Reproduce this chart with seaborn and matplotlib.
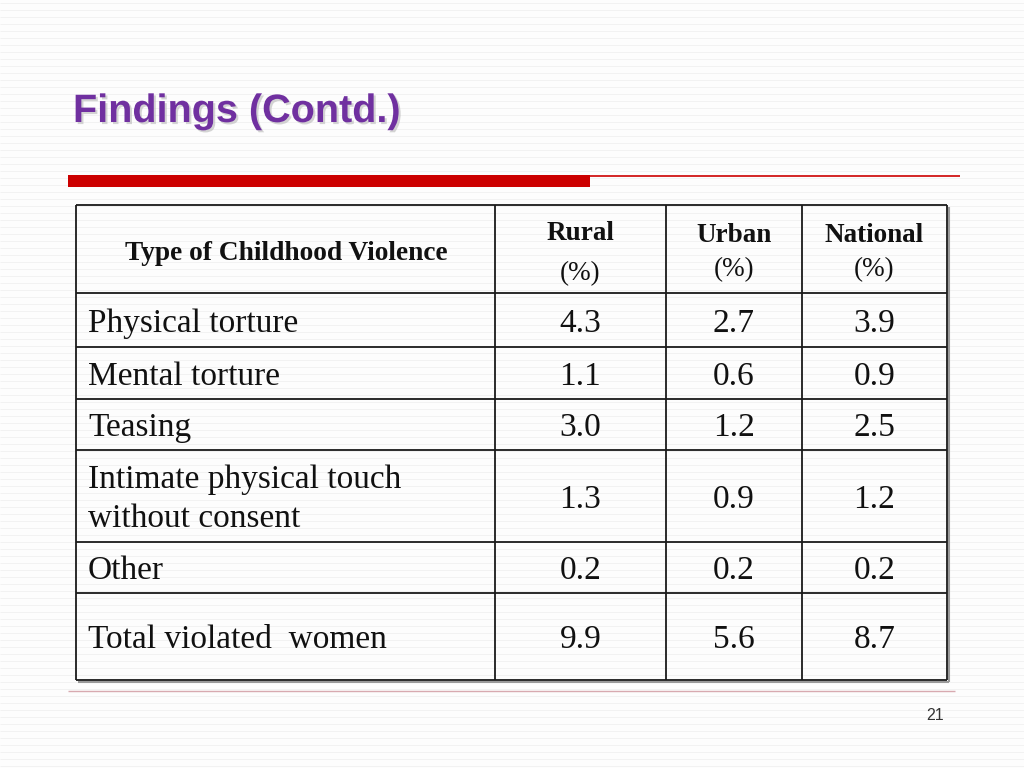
import numpy as np
import matplotlib
matplotlib.use("Agg")
import matplotlib.pyplot as plt
import matplotlib.patheffects as pe
import seaborn as sns

# table contents
violence_types = ["Physical torture", "Mental torture", "Teasing",
                  "Intimate physical touch\nwithout consent", "Other",
                  "Total violated  women"]
rural = [4.3, 1.1, 3.0, 1.3, 0.2, 9.9]
urban = [2.7, 0.6, 1.2, 0.9, 0.2, 5.6]
national = [3.9, 0.9, 2.5, 1.2, 0.2, 8.7]
column_names = ["Rural", "Urban", "National"]
first_header = "Type of Childhood Violence"
slide_title = "Findings (Contd.)"
page_number = "21"

# layout in pixels
row_edges = [205, 293, 347, 399, 450, 542, 593, 680]
col_edges = [76, 495, 666, 802, 947]

sns.set_theme(style="white")
plt.rcParams["font.family"] = ["Liberation Serif", "DejaVu Serif"]

fig = plt.figure(figsize=(10.24, 7.68), dpi=100)
fig.patch.set_facecolor("#fdfdfd")
ax = fig.add_axes([0, 0, 1, 1])
ax.set_xlim(0, 1024)
ax.set_ylim(768, 0)
ax.axis("off")

# faint background texture
ax.hlines(np.arange(3, 768, 7), 0, 1024, color="#f1f1f1", lw=0.6, zorder=0)

# title
ax.text(73, 122, slide_title, family="Liberation Sans", fontsize=28.5,
        fontweight="bold", color="#7030A0", va="baseline", ha="left",
        path_effects=[pe.withSimplePatchShadow(offset=(1.5, -1.5),
                                               shadow_rgbFace="#b8b8b8",
                                               alpha=0.6)])

# red rule under title
ax.fill_between([68, 590], 175, 187, color="#CC0000", lw=0)
ax.hlines(175.5, 590, 960, color="#CC0000", lw=1.2)

# footer rule and page number
ax.hlines(691, 68, 955, color="#d8aab0", lw=1.0)
ax.text(935, 715, page_number, family="Liberation Sans", fontsize=11.5,
        color="#333333", ha="center", va="center")

# table shadow
ax.hlines(row_edges[-1] + 1.5, col_edges[0] + 2, col_edges[-1] + 1.5,
          color="#9a9a9a", lw=1.5, zorder=1)
ax.vlines(col_edges[-1] + 1.5, row_edges[0] + 2, row_edges[-1] + 1.5,
          color="#9a9a9a", lw=1.5, zorder=1)

# table grid
ax.hlines(row_edges, col_edges[0], col_edges[-1], color="#1a1a1a", lw=1.3, zorder=2)
ax.vlines(col_edges, row_edges[0], row_edges[-1], color="#1a1a1a", lw=1.3, zorder=2)

# header row
hy0, hy1 = row_edges[0], row_edges[1]
ax.text((col_edges[0] + col_edges[1]) / 2 + 1, (hy0 + hy1) / 2 + 4, first_header,
        fontsize=19.7, fontweight="bold", ha="center", va="center", color="#111111")
head_pos = [(233, 274), (235, 270), (235, 270)]
for j, name in enumerate(column_names):
    cx = (col_edges[j + 1] + col_edges[j + 2]) / 2
    ya, yb = head_pos[j]
    ax.text(cx, ya, name, fontsize=19.5, fontweight="bold",
            ha="center", va="center", color="#111111")
    ax.text(cx, yb, "(%)", fontsize=19.5, ha="center", va="center",
            color="#111111")

# body rows
for i, label in enumerate(violence_types):
    cy = (row_edges[i + 1] + row_edges[i + 2]) / 2 + 3.5
    ax.text(88, cy, label, fontsize=24, ha="left", va="center",
            linespacing=1.38, color="#111111")
    for j, series in enumerate([rural, urban, national]):
        cx = (col_edges[j + 1] + col_edges[j + 2]) / 2
        ax.text(cx, cy, f"{series[i]:.1f}", fontsize=24, ha="center",
                va="center", color="#111111")

fig.savefig("out.png", dpi=100, facecolor=fig.get_facecolor())
